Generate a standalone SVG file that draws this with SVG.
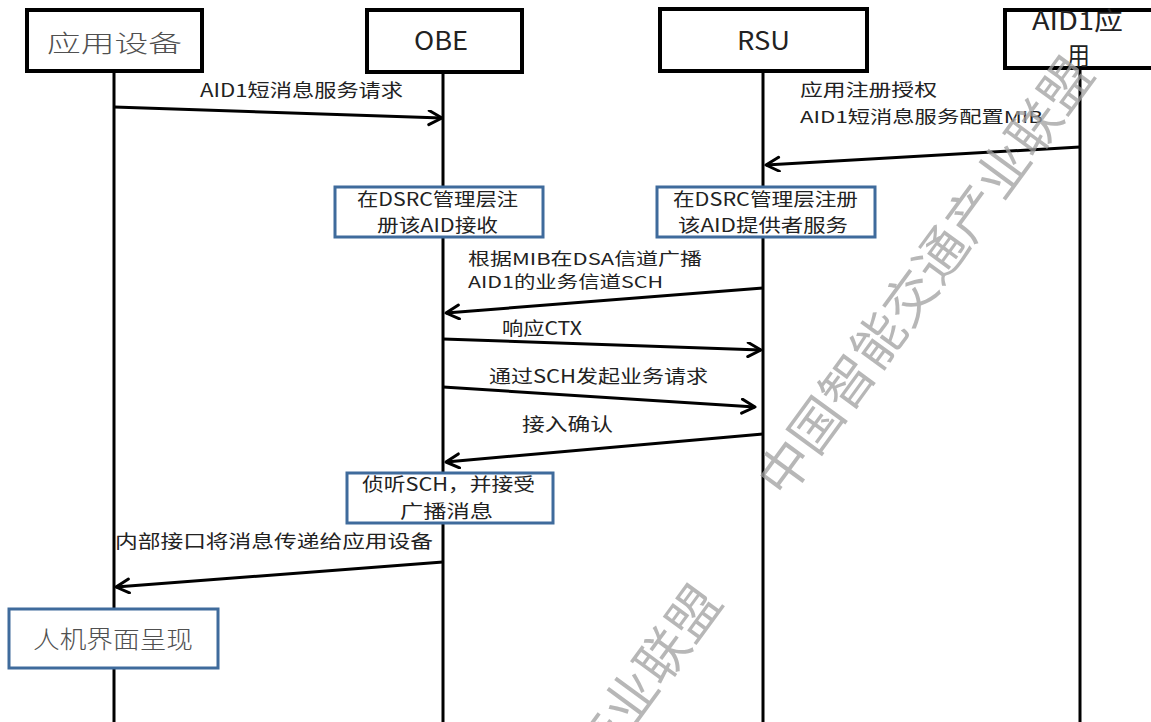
<svg xmlns="http://www.w3.org/2000/svg" width="1151" height="722" viewBox="0 0 1151 722">
<defs>
<style>
.hdr{fill:#fff;stroke:#000;stroke-width:4}
.act{fill:#fff;stroke:#3f6b9c;stroke-width:3}
.life{stroke:#000;stroke-width:3;fill:none}
.msg{stroke:#000;stroke-width:3;fill:none;marker-end:url(#arr)}
.t{font-family:"Noto Sans CJK SC","Noto Sans",sans-serif;fill:#222;font-size:18px}
.s{font-size:16.5px}
.big{font-family:"Noto Sans CJK SC","Noto Sans",sans-serif;fill:#505050;font-size:24px;font-weight:300}
.h{font-family:"Noto Sans CJK SC","Noto Sans",sans-serif;fill:#222;font-size:25px}
.wm{font-family:"Noto Sans CJK SC",sans-serif;fill:#a0a0a0;opacity:0.75;font-size:52px}
</style>
<marker id="arr" markerUnits="userSpaceOnUse" markerWidth="20" markerHeight="20" refX="15" refY="8" orient="auto">
<path d="M2,1 L15,8 L2,15" fill="none" stroke="#000" stroke-width="3" stroke-linejoin="round" stroke-linecap="round"/>
</marker>
</defs>
<rect width="1151" height="722" fill="#fff"/>
<g id="lifelines">
<line class="life" x1="114" y1="70" x2="114" y2="722"/>
<line class="life" x1="443" y1="70" x2="443" y2="722"/>
<line class="life" x1="763" y1="70" x2="763" y2="722"/>
<line class="life" x1="1080" y1="68" x2="1080" y2="722"/>
</g>
<g id="node-app">
<rect class="hdr" x="27" y="10" width="175" height="61"/>
<text class="big" x="47" y="52" textLength="135" lengthAdjust="spacingAndGlyphs">应用设备</text>
</g>
<g id="node-obe">
<rect class="hdr" x="367" y="10" width="155" height="62"/>
<text class="h" x="414" y="50" textLength="54" lengthAdjust="spacingAndGlyphs">OBE</text>
</g>
<g id="node-rsu">
<rect class="hdr" x="660" y="9" width="207" height="62"/>
<text class="h" x="737" y="50" textLength="53" lengthAdjust="spacingAndGlyphs">RSU</text>
</g>
<g id="node-aid1">
<rect class="hdr" x="1005" y="10" width="160" height="58"/>
<text class="h" x="1032" y="30" textLength="91" lengthAdjust="spacingAndGlyphs">AID1应</text>
<text class="h" x="1067" y="65" textLength="23" lengthAdjust="spacingAndGlyphs" fill="#777">用</text>
</g>
<g id="connectors">
<line class="msg" x1="114" y1="107" x2="442" y2="118"/>
<line class="msg" x1="1080" y1="147" x2="766" y2="165"/>
<line class="msg" x1="763" y1="288" x2="446" y2="313"/>
<line class="msg" x1="443" y1="339" x2="761" y2="350"/>
<line class="msg" x1="443" y1="387" x2="755" y2="407"/>
<line class="msg" x1="763" y1="434" x2="446" y2="462"/>
<line class="msg" x1="443" y1="562" x2="116" y2="587"/>
</g>
<g id="labels">
<text class="t" x="200" y="97" textLength="203" lengthAdjust="spacingAndGlyphs">AID1短消息服务请求</text>
<text class="t s" x="800" y="96" textLength="137" lengthAdjust="spacingAndGlyphs">应用注册授权</text>
<text class="t s" x="800" y="123" textLength="243" lengthAdjust="spacingAndGlyphs">AID1短消息服务配置MIB</text>
<text class="t s" x="468" y="265" textLength="234" lengthAdjust="spacingAndGlyphs">根据MIB在DSA信道广播</text>
<text class="t s" x="468" y="288" textLength="195" lengthAdjust="spacingAndGlyphs">AID1的业务信道SCH</text>
<text class="t" x="502" y="335" textLength="80" lengthAdjust="spacingAndGlyphs">响应CTX</text>
<text class="t" x="489" y="383" textLength="219" lengthAdjust="spacingAndGlyphs">通过SCH发起业务请求</text>
<text class="t" x="522" y="431" textLength="91" lengthAdjust="spacingAndGlyphs">接入确认</text>
<text class="t" x="115" y="548" textLength="318" lengthAdjust="spacingAndGlyphs">内部接口将消息传递给应用设备</text>
</g>
<g id="act-obe-register">
<rect class="act" x="335" y="187" width="208" height="50"/>
<text class="t" x="357" y="206" textLength="161" lengthAdjust="spacingAndGlyphs">在DSRC管理层注</text>
<text class="t" x="377" y="232" textLength="121" lengthAdjust="spacingAndGlyphs">册该AID接收</text>
</g>
<g id="act-rsu-register">
<rect class="act" x="657" y="187" width="218" height="50"/>
<text class="t" x="673" y="206" textLength="185" lengthAdjust="spacingAndGlyphs">在DSRC管理层注册</text>
<text class="t" x="678" y="232" textLength="170" lengthAdjust="spacingAndGlyphs">该AID提供者服务</text>
</g>
<g id="act-obe-listen">
<rect class="act" x="347" y="473" width="206" height="50"/>
<text class="t" x="362" y="491" textLength="173" lengthAdjust="spacingAndGlyphs">侦听SCH，并接受</text>
<text class="t" x="400" y="518" textLength="93" lengthAdjust="spacingAndGlyphs">广播消息</text>
</g>
<g id="act-app-hmi">
<rect class="act" x="9" y="609" width="209" height="59"/>
<text class="big" x="33" y="648" textLength="160" lengthAdjust="spacingAndGlyphs">人机界面呈现</text>
</g>
<g id="watermark">
<text class="wm" transform="translate(785,500) rotate(-53.8)" textLength="527" lengthAdjust="spacingAndGlyphs">中国智能交通产业联盟</text>
<text class="wm" transform="translate(413,1028) rotate(-53.8)" textLength="527" lengthAdjust="spacingAndGlyphs">中国智能交通产业联盟</text>
</g>
</svg>
